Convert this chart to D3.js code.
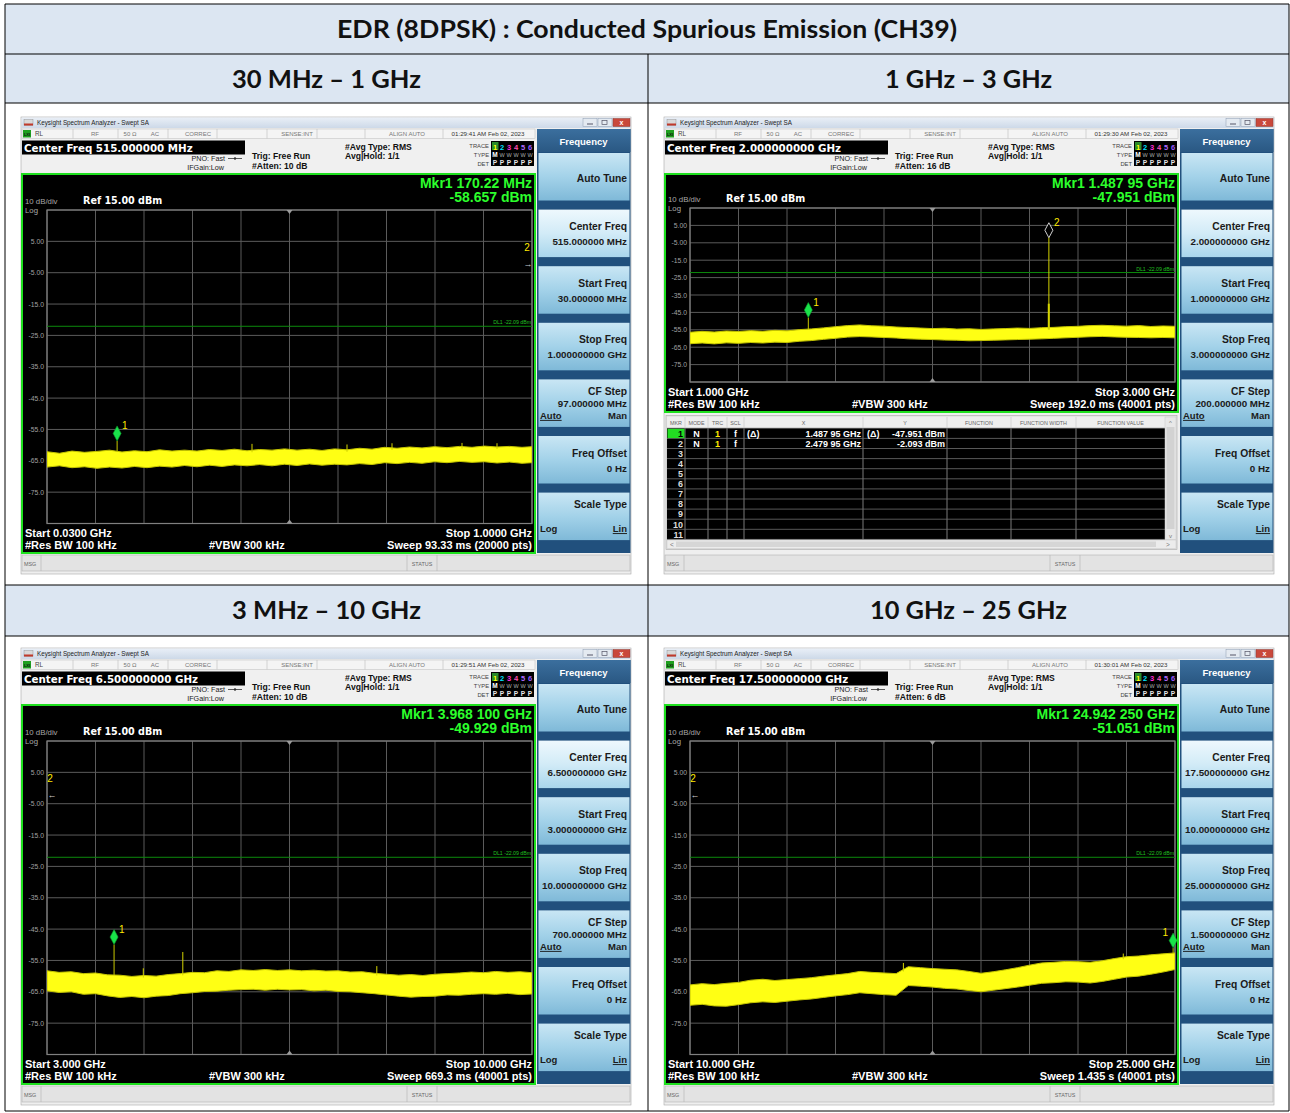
<!DOCTYPE html>
<html><head><meta charset="utf-8">
<script src="https://cdn.jsdelivr.net/npm/d3@7"></script>
<style>html,body{margin:0;padding:0;background:#fff;}svg{display:block;}</style>
</head><body><svg id="c" width="1290" height="1113"></svg>
<script>
// ---------------- DATA ----------------
const tableTitle = "EDR (8DPSK) : Conducted Spurious Emission (CH39)";
const rangeLabels = ["30 MHz – 1 GHz", "1 GHz – 3 GHz", "3 MHz – 10 GHz", "10 GHz – 25 GHz"];
const freqStartGHz = [0.03, 1, 3, 10];
const freqStopGHz = [1, 3, 10, 25];
const centerFreqLabels = ["Center Freq 515.000000 MHz", "Center Freq 2.000000000 GHz", "Center Freq 6.500000000 GHz", "Center Freq 17.500000000 GHz"];
const attenLabels = ["#Atten: 10 dB", "#Atten: 16 dB", "#Atten: 10 dB", "#Atten: 6 dB"];
const timeLabels = ["01:29:41 AM Feb 02, 2023", "01:29:30 AM Feb 02, 2023", "01:29:51 AM Feb 02, 2023", "01:30:01 AM Feb 02, 2023"];
const mkr1FreqLabels = ["Mkr1 170.22 MHz", "Mkr1 1.487 95 GHz", "Mkr1 3.968 100 GHz", "Mkr1 24.942 250 GHz"];
const mkr1LevelLabels = ["-58.657 dBm", "-47.951 dBm", "-49.929 dBm", "-51.051 dBm"];
const mkr1FreqGHz = [0.17022, 1.48795, 3.9681, 24.94225];
const mkr1LevelDbm = [-58.657, -47.951, -49.929, -51.051];
const mkr2FreqGHz = 2.47995;
const mkr2LevelDbm = -2.093;
const keyCenterFreq = ["515.000000 MHz", "2.000000000 GHz", "6.500000000 GHz", "17.500000000 GHz"];
const keyStartFreq = ["30.000000 MHz", "1.000000000 GHz", "3.000000000 GHz", "10.000000000 GHz"];
const keyStopFreq = ["1.000000000 GHz", "3.000000000 GHz", "10.000000000 GHz", "25.000000000 GHz"];
const keyCfStep = ["97.000000 MHz", "200.000000 MHz", "700.000000 MHz", "1.500000000 GHz"];
const startLabels = ["Start 0.0300 GHz", "Start 1.000 GHz", "Start 3.000 GHz", "Start 10.000 GHz"];
const stopLabels = ["Stop 1.0000 GHz", "Stop 3.000 GHz", "Stop 10.000 GHz", "Stop 25.000 GHz"];
const sweepLabels = ["Sweep  93.33 ms (20000 pts)", "Sweep  192.0 ms (40001 pts)", "Sweep  669.3 ms (40001 pts)", "Sweep  1.435 s (40001 pts)"];
const yTickValues = [5, -5, -15, -25, -35, -45, -55, -65, -75];
const yTickLabels = ["5.00", "-5.00", "-15.0", "-25.0", "-35.0", "-45.0", "-55.0", "-65.0", "-75.0"];
const refLevelDbm = 15;
const bottomLevelDbm = -85;
const displayLineDbm = -22.09;
const displayLineLabel = "DL1 -22.09 dBm";
const softkeyLabels = ["Auto Tune", "Center Freq", "Start Freq", "Stop Freq", "CF Step", "Freq Offset", "Scale Type"];
const markerTableHeaders = ["MKR", "MODE", "TRC", "SCL", "X", "Y", "FUNCTION", "FUNCTION WIDTH", "FUNCTION VALUE"];
const markerTableRows = [
  ["1", "N", "1", "f", "(Δ)", "1.487 95 GHz", "(Δ)", "-47.951 dBm"],
  ["2", "N", "1", "f", "", "2.479 95 GHz", "", "-2.093 dBm"]
];

// trace envelopes: [freq GHz, band top dBm, band bottom dBm]
const trace1 = [[0.030,-62.1,-67.0],[0.055,-62.6,-66.6],[0.080,-61.9,-67.2],[0.105,-62.3,-66.9],[0.130,-62.0,-67.4],[0.155,-61.6,-67.0],[0.180,-62.2,-67.3],[0.205,-61.8,-66.8],[0.230,-62.1,-67.2],[0.255,-61.5,-66.7],[0.280,-61.9,-67.0],[0.305,-61.6,-66.5],[0.330,-61.9,-66.9],[0.355,-61.4,-66.4],[0.380,-61.7,-66.8],[0.405,-61.3,-66.3],[0.430,-61.8,-66.6],[0.455,-61.4,-66.2],[0.480,-61.6,-66.6],[0.505,-61.2,-66.1],[0.530,-61.6,-66.5],[0.555,-61.3,-66.0],[0.580,-61.7,-66.4],[0.605,-61.2,-66.1],[0.630,-61.5,-66.3],[0.655,-61.0,-65.9],[0.680,-61.3,-66.2],[0.705,-60.7,-65.6],[0.730,-61.0,-65.9],[0.755,-60.6,-65.5],[0.780,-60.9,-65.8],[0.805,-60.5,-65.3],[0.830,-60.8,-65.6],[0.855,-60.4,-65.2],[0.880,-60.7,-65.5],[0.905,-60.3,-65.3],[0.930,-60.6,-65.7],[0.955,-60.4,-65.4],[0.980,-60.7,-65.8],[1.000,-60.5,-65.6]];
const trace2 = [[1.00,-56.4,-63.0],[1.05,-55.9,-62.6],[1.10,-56.3,-63.1],[1.15,-55.7,-62.5],[1.20,-56.0,-62.8],[1.25,-55.5,-62.3],[1.30,-55.9,-62.6],[1.35,-55.3,-62.1],[1.40,-55.6,-62.3],[1.45,-54.9,-61.6],[1.50,-54.5,-61.2],[1.55,-53.9,-60.5],[1.60,-53.2,-59.9],[1.65,-52.6,-59.2],[1.70,-52.2,-58.9],[1.75,-52.7,-59.1],[1.80,-52.9,-59.4],[1.85,-53.4,-59.7],[1.90,-53.7,-60.2],[1.95,-54.0,-60.4],[2.00,-54.3,-60.6],[2.05,-54.1,-60.9],[2.10,-54.6,-61.0],[2.15,-54.4,-61.3],[2.20,-54.8,-61.2],[2.25,-54.5,-61.0],[2.30,-54.3,-60.8],[2.35,-54.0,-60.6],[2.40,-54.2,-60.4],[2.45,-53.8,-60.2],[2.50,-53.6,-59.9],[2.55,-53.2,-59.6],[2.60,-53.0,-59.3],[2.65,-52.6,-59.0],[2.70,-52.4,-58.8],[2.75,-52.7,-59.1],[2.80,-52.9,-59.3],[2.85,-52.6,-59.4],[2.90,-53.1,-59.6],[2.95,-52.8,-59.4],[3.00,-53.0,-59.6]];
const trace3 = [[3.000,-58.3,-64.7],[3.175,-58.8,-65.2],[3.350,-58.6,-65.0],[3.525,-59.2,-65.8],[3.700,-59.0,-65.6],[3.875,-59.6,-66.3],[4.050,-59.7,-66.8],[4.225,-60.1,-66.5],[4.400,-59.8,-66.9],[4.575,-60.0,-66.4],[4.750,-59.5,-66.2],[4.925,-59.2,-65.6],[5.100,-58.8,-65.3],[5.275,-58.9,-64.9],[5.450,-58.3,-64.8],[5.625,-58.5,-64.5],[5.800,-58.0,-64.3],[5.975,-58.2,-64.2],[6.150,-57.9,-64.5],[6.325,-58.2,-64.2],[6.500,-58.0,-64.4],[6.675,-58.3,-64.3],[6.850,-58.1,-64.7],[7.025,-58.4,-64.5],[7.200,-58.3,-64.9],[7.375,-58.7,-65.0],[7.550,-58.6,-65.3],[7.725,-59.1,-65.6],[7.900,-59.4,-66.0],[8.075,-59.7,-66.4],[8.250,-59.5,-66.7],[8.425,-59.8,-66.5],[8.600,-59.4,-66.4],[8.775,-59.2,-66.0],[8.950,-59.0,-66.1],[9.125,-58.7,-65.8],[9.300,-58.9,-65.6],[9.475,-58.5,-65.8],[9.650,-58.8,-65.5],[9.825,-58.6,-65.9],[10.000,-58.9,-65.7]];
const trace4 = [[10.000,-62.8,-69.3],[10.375,-62.4,-69.0],[10.750,-62.7,-69.5],[11.125,-62.3,-69.6],[11.500,-62.0,-69.1],[11.875,-61.3,-68.5],[12.250,-61.0,-68.2],[12.625,-61.4,-68.4],[13.000,-61.1,-68.0],[13.375,-60.8,-67.6],[13.750,-60.5,-67.3],[14.125,-60.0,-66.8],[14.500,-59.6,-66.3],[14.875,-59.2,-65.9],[15.250,-58.5,-65.3],[15.625,-58.8,-65.6],[16.000,-59.0,-65.9],[16.375,-59.2,-66.1],[16.750,-57.0,-63.0],[17.125,-57.3,-63.2],[17.500,-57.6,-63.5],[17.875,-57.8,-63.9],[18.250,-58.0,-64.1],[18.625,-58.5,-64.6],[19.000,-59.1,-65.0],[19.375,-58.6,-64.5],[19.750,-58.0,-64.0],[20.125,-57.3,-63.5],[20.500,-56.5,-62.9],[20.875,-55.8,-62.3],[21.250,-55.6,-62.1],[21.625,-55.3,-61.8],[22.000,-55.4,-61.9],[22.375,-55.6,-62.2],[22.750,-55.1,-61.7],[23.125,-54.4,-61.0],[23.500,-53.8,-60.3],[23.875,-53.6,-60.0],[24.250,-53.2,-59.4],[24.625,-52.9,-58.7],[25.000,-52.6,-57.9]];
// narrow spikes rising above the noise band: [freq GHz, peak dBm, width px]
const spikes1 = [[0.44,-59.6,1],[0.63,-59.8,1],[0.72,-59.4,1],[0.86,-59.3,1],[0.93,-59.4,1]];
const spikes2 = [[2.47995,-2.093,1],[2.4795,-40.0,2]];
const spikes3 = [[4.39,-57.5,1],[4.96,-52.3,1],[7.76,-56.8,1]];
const spikes4 = [[16.6,-55.8,1],[23.4,-52.8,1]];

// ---------------- DRAW ----------------
const svg = d3.select("#c");
const FA = "'Liberation Sans', Arial, sans-serif";
const FV = "'DejaVu Sans', Verdana, sans-serif";
const FH = "Lato, 'Open Sans', sans-serif";
function T(g, x, y, s, o = {}) {
  const t = g.append("text").attr("x", x).attr("y", y).text(s)
    .attr("font-family", o.f || FA).attr("font-size", o.s || 8)
    .attr("font-weight", o.w || "normal").attr("fill", o.c || "#000");
  if (o.a) t.attr("text-anchor", o.a);
  if (o.tl) t.attr("textLength", o.tl).attr("lengthAdjust", "spacingAndGlyphs");
  if (o.u) t.attr("text-decoration", "underline");
  return t;
}
function R(g, x, y, w, h, fill, stroke, sw) {
  const r = g.append("rect").attr("x", x).attr("y", y).attr("width", w).attr("height", h).attr("fill", fill);
  if (stroke) r.attr("stroke", stroke).attr("stroke-width", sw || 1);
  return r;
}
function Ln(g, x1, y1, x2, y2, c, w) {
  return g.append("line").attr("x1", x1).attr("y1", y1).attr("x2", x2).attr("y2", y2).attr("stroke", c).attr("stroke-width", w || 1);
}
const defs = svg.append("defs");
function grad(id, stops) {
  const lg = defs.append("linearGradient").attr("id", id).attr("x1", 0).attr("y1", 0).attr("x2", 0).attr("y2", 1);
  stops.forEach(s => lg.append("stop").attr("offset", s[0]).attr("stop-color", s[1]));
}
grad("tb", [[0, "#e9eff7"], [1, "#cdd9e8"]]);
grad("key", [[0, "#c9e6f4"], [0.5, "#a3d2e9"], [1, "#7fb9d8"]]);
grad("keySel", [[0, "#eef8fd"], [0.5, "#d2ebf7"], [1, "#a9d6ec"]]);
grad("hdr", [[0, "#3b6f9e"], [1, "#2a5883"]]);

// table
const TL = 5, TR = 1289, TC = 648;
const rowY = [4, 54, 103, 585, 636, 1111];
R(svg, TL, rowY[0], TR - TL, rowY[2] - rowY[0], "#dce6f2");
R(svg, TL, rowY[3], TR - TL, rowY[4] - rowY[3], "#dce6f2");
rowY.forEach(yy => Ln(svg, TL, yy, TR, yy, "#000", 1));
Ln(svg, TL, rowY[0], TL, rowY[5], "#000", 1);
Ln(svg, TR, rowY[0], TR, rowY[5], "#000", 1);
Ln(svg, TC, rowY[1], TC, rowY[5], "#000", 1);
T(svg, 647, 38, tableTitle, { f: FH, s: 24, w: "bold", a: "middle", c: "#111", tl: 620 });
const subW = [189, 167, 189, 197];
const subPos = [[326.5, 88], [968.5, 88], [326.5, 619], [968.5, 619]];
rangeLabels.forEach((s, i) => T(svg, subPos[i][0], subPos[i][1], s, { f: FH, s: 24, w: "bold", a: "middle", c: "#111", tl: subW[i] }));

const traces = [trace1, trace2, trace3, trace4];
const spikes = [spikes1, spikes2, spikes3, spikes4];
const origins = [[21, 117], [664, 117], [21, 648], [664, 648]];

function topAt(tr, f) {
  const i = d3.bisector(d => d[0]).left(tr, f);
  if (i <= 0) return tr[0][1];
  if (i >= tr.length) return tr[tr.length - 1][1];
  const a = tr[i - 1], b = tr[i], t = (f - a[0]) / (b[0] - a[0]);
  return a[1] + t * (b[1] - a[1]);
}

function drawPanel(i) {
  const [wx, wy] = origins[i];
  const hasTable = i === 1;
  const g = svg.append("g").attr("transform", `translate(${wx},${wy})`);
  // window frame
  R(g, 0, 0, 610, 457, "#efefef", "#a8a8a8", 0.6);
  R(g, 0.5, 0.5, 609, 10.5, "url(#tb)");
  R(g, 3, 2.5, 9, 6, "#d9d9d9", "#888", 0.4);
  R(g, 3, 6.5, 9, 2, "#c0392b");
  T(g, 16, 8.3, "Keysight Spectrum Analyzer - Swept SA", { s: 6.3, c: "#222" });
  R(g, 562, 1.5, 14, 8, "#e4eaf1", "#8c9bb0", 0.5);
  Ln(g, 566, 7, 572, 7, "#556", 1);
  R(g, 577, 1.5, 14, 8, "#e4eaf1", "#8c9bb0", 0.5);
  R(g, 581, 3.5, 5, 4, "none", "#556", 0.7);
  R(g, 592, 1.5, 17, 8, "#c9483b", "#8c3a30", 0.5);
  T(g, 600.5, 8.3, "x", { s: 7, w: "bold", c: "#fff", a: "middle" });

  // status row
  R(g, 1, 12, 513, 9.5, "#f4f4f4", "#bdbdbd", 0.5);
  [52, 97, 147, 196, 246, 296, 344, 422].forEach(xx => Ln(g, xx, 12, xx, 21.5, "#bdbdbd", 0.6));
  R(g, 2, 13, 8, 7.5, "#1f9f1f");
  T(g, 6, 19, "LXI", { s: 4, w: "bold", c: "#111", a: "middle" });
  T(g, 14, 19, "RL", { s: 6.3, c: "#444" });
  const st = [["RF", 74], ["50 Ω", 109], ["AC", 134], ["CORREC", 177], ["SENSE:INT", 276], ["ALIGN AUTO", 386]];
  st.forEach(s => T(g, s[1], 19, s[0], { s: 6, c: "#777", a: "middle" }));
  T(g, 467, 19, timeLabels[i], { s: 6.2, c: "#333", a: "middle" });

  // info area
  R(g, 1, 22, 513, 34, "#f0f0f0");
  R(g, 1, 23.5, 223, 14, "#000");
  T(g, 3, 35, centerFreqLabels[i], { f: FV, s: 10.3, w: "bold", c: "#fff" });
  T(g, 204, 44, "PNO: Fast", { s: 7.2, c: "#222", a: "end" });
  T(g, 203, 53, "IFGain:Low", { s: 7.2, c: "#222", a: "end" });
  Ln(g, 207, 41.5, 221, 41.5, "#333", 0.8);
  g.append("circle").attr("cx", 214).attr("cy", 41.5).attr("r", 1.2).attr("fill", "#333");
  T(g, 231, 42, "Trig: Free Run", { s: 8.6, w: "bold", c: "#111" });
  T(g, 231, 51.5, attenLabels[i], { s: 8.6, w: "bold", c: "#111" });
  T(g, 324, 32.5, "#Avg Type: RMS", { s: 8.6, w: "bold", c: "#111" });
  T(g, 324, 41.5, "Avg|Hold: 1/1", { s: 8.6, w: "bold", c: "#111" });
  T(g, 468, 31, "TRACE", { s: 5.8, c: "#444", a: "end" });
  T(g, 468, 40, "TYPE", { s: 5.8, c: "#444", a: "end" });
  T(g, 468, 48.5, "DET", { s: 5.8, c: "#444", a: "end" });
  R(g, 470, 24, 43, 25, "#000");
  const tcol = ["#ffff00", "#00e5ff", "#ff2bd6", "#ff4fb0", "#b06bff", "#9b59ff"];
  R(g, 471, 25, 6.5, 8, "#2a8a2a");
  tcol.forEach((c, k) => {
    T(g, 474 + k * 7, 32.5, String(k + 1), { s: 7.5, w: "bold", c: c, a: "middle" });
    T(g, 474 + k * 7, 48, "P", { s: 6.5, w: "bold", c: "#e8e8e8", a: "middle" });
    T(g, 474 + k * 7, 40, k === 0 ? "M" : "W", { s: k === 0 ? 6.5 : 5.5, w: k === 0 ? "bold" : "normal", c: k === 0 ? "#fff" : "#aaa", a: "middle" });
  });

  // graticule
  const boxB = hasTable ? 295 : 436;
  const pT = hasTable ? 91 : 93, pB = hasTable ? 265 : 406.5, pL = 26, pR = 511;
  R(g, 1, 57, 513, boxB - 57, "#000", "#1ee01e", 2);
  const x = d3.scaleLinear().domain([freqStartGHz[i], freqStopGHz[i]]).range([pL, pR]);
  const y = d3.scaleLinear().domain([bottomLevelDbm, refLevelDbm]).range([pB, pT]);
  const xs = d3.range(11).map(k => freqStartGHz[i] + k * (freqStopGHz[i] - freqStartGHz[i]) / 10);
  const ys = d3.range(bottomLevelDbm, refLevelDbm + 1, 10);
  xs.forEach(v => Ln(g, x(v), pT, x(v), pB, "#5b5b5b", 1));
  ys.forEach(v => Ln(g, pL, y(v), pR, y(v), "#5b5b5b", 1));
  R(g, pL, pT, pR - pL, pB - pT, "none", "#808080", 1.2);
  const xm = x((freqStartGHz[i] + freqStopGHz[i]) / 2);
  g.append("path").attr("d", `M${xm - 3},${pT} L${xm + 3},${pT} L${xm},${pT + 4} Z`).attr("fill", "#9a9a9a");
  g.append("path").attr("d", `M${xm - 3},${pB} L${xm + 3},${pB} L${xm},${pB - 4} Z`).attr("fill", "#9a9a9a");
  yTickValues.forEach((v, k) => T(g, pL - 3, y(v) + 2.5, yTickLabels[k], { s: 6.8, c: "#a0a0a0", a: "end" }));

  // display line
  Ln(g, pL, y(displayLineDbm), pR, y(displayLineDbm), "#0c8a0c", 1);
  T(g, pR - 1, y(displayLineDbm) - 2, displayLineLabel, { s: 5.2, c: "#20c020", a: "end" });

  // trace
  const cid = "clip" + i;
  defs.append("clipPath").attr("id", cid).append("rect").attr("x", wx + pL).attr("y", wy + pT).attr("width", pR - pL).attr("height", pB - pT);
  const pg = svg.append("g").attr("clip-path", `url(#${cid})`).append("g").attr("transform", `translate(${wx},${wy})`);
  const tr = traces[i];
  pg.append("path").datum(tr)
    .attr("d", d3.area().x(d => x(d[0])).y0(d => y(d[2])).y1(d => y(d[1])))
    .attr("fill", "#ffff14").attr("stroke", "#c4c400").attr("stroke-width", 1);
  spikes[i].forEach(s => Ln(pg, x(s[0]), y(topAt(tr, s[0])) + 2, x(s[0]), y(s[1]), "#d4d400", s[2]));

  // marker 1
  const m1x = x(mkr1FreqGHz[i]), m1y = y(mkr1LevelDbm[i]);
  Ln(g, m1x, m1y, m1x, y(topAt(tr, mkr1FreqGHz[i])) + 1, "#c8c800", 1);
  const bcid = "bclip" + i;
  defs.append("clipPath").attr("id", bcid).append("rect").attr("x", wx + 1).attr("y", wy + 57).attr("width", 512).attr("height", boxB - 57);
  const mg = svg.append("g").attr("clip-path", `url(#${bcid})`).append("g").attr("transform", `translate(${wx},${wy})`);
  mg.append("path").attr("d", `M${m1x},${m1y} L${m1x + 4},${m1y - 7.5} L${m1x},${m1y - 15} L${m1x - 4},${m1y - 7.5} Z`)
    .attr("fill", "#19e34a").attr("stroke", "#0c9c2c").attr("stroke-width", 0.6);
  if (m1x > pR - 15) T(g, m1x - 5, m1y - 12, "1", { s: 10, c: "#ffea00", a: "end" });
  else T(g, m1x + 5, m1y - 12, "1", { s: 10, c: "#ffea00" });

  // marker 2
  if (mkr2FreqGHz >= freqStartGHz[i] && mkr2FreqGHz <= freqStopGHz[i]) {
    const m2x = x(mkr2FreqGHz), m2y = y(mkr2LevelDbm);
    g.append("path").attr("d", `M${m2x},${m2y} L${m2x + 4},${m2y - 7.5} L${m2x},${m2y - 15} L${m2x - 4},${m2y - 7.5} Z`)
      .attr("fill", "#000").attr("stroke", "#e6e6e6").attr("stroke-width", 0.9);
    T(g, m2x + 5, m2y - 12, "2", { s: 10, c: "#ffea00" });
  } else if (mkr2FreqGHz > freqStopGHz[i]) {
    T(g, pR - 5, y(mkr2LevelDbm) - 13, "2", { s: 10, c: "#ffea00", a: "middle" });
    T(g, pR - 4, y(mkr2LevelDbm) + 3, "→", { s: 9, c: "#cfcfcf", a: "middle" });
  } else {
    T(g, pL + 3, y(mkr2LevelDbm) - 13, "2", { s: 10, c: "#ffea00", a: "middle" });
    T(g, pL + 5, y(mkr2LevelDbm) + 3, "←", { s: 9, c: "#cfcfcf", a: "middle" });
  }

  // graticule texts
  T(g, pR, 71, mkr1FreqLabels[i], { s: 14, w: "bold", c: "#2cff2c", a: "end" });
  T(g, pR, 85, mkr1LevelLabels[i], { s: 14, w: "bold", c: "#2cff2c", a: "end" });
  T(g, 4, pT - 6, "10 dB/div", { s: 7.8, c: "#a8a8a8" });
  T(g, 62, pT - 6, "Ref 15.00 dBm", { f: FV, s: 9.6, w: "bold", c: "#fff" });
  T(g, 4, pT + 3, "Log", { s: 7.8, c: "#a8a8a8" });
  T(g, 4, pB + 13.5, startLabels[i], { s: 11, w: "bold", c: "#fff" });
  T(g, pR, pB + 13.5, stopLabels[i], { s: 11, w: "bold", c: "#fff", a: "end" });
  T(g, 4, boxB - 4, "#Res BW 100 kHz", { s: 11, w: "bold", c: "#fff" });
  T(g, 188, boxB - 4, "#VBW 300 kHz", { s: 11, w: "bold", c: "#fff" });
  T(g, pR, boxB - 4, sweepLabels[i], { s: 11, w: "bold", c: "#fff", a: "end" });

  // marker table (panel 2)
  if (hasTable) {
    R(g, 2, 298.5, 511, 134, "#e4e4e4", "#a9a9a9", 0.6);
    R(g, 3, 300, 498, 10.5, "#eeeeee");
    R(g, 3, 311, 498, 111.5, "#000");
    const sep = [3, 21, 44, 63, 80, 199, 283, 347, 412, 501];
    for (let k = 0; k < 9; k++) T(g, (sep[k] + sep[k + 1]) / 2, 307.8, markerTableHeaders[k], { s: 5.4, c: "#666", a: "middle" });
    sep.slice(1, -1).forEach(sx => { Ln(g, sx, 300, sx, 310.5, "#c4c4c4", 0.6); Ln(g, sx, 311, sx, 422.5, "#b0b0b0", 0.7); });
    d3.range(12).forEach(k => Ln(g, 3, 311.3 + k * 10.1, 501, 311.3 + k * 10.1, "#6f6f6f", 0.8));
    R(g, 3.5, 311.8, 17, 9.3, "#22dd22");
    d3.range(1, 12).forEach(n => T(g, 19, 311.3 + (n - 1) * 10.1 + 8.3, String(n), { s: 9, w: "bold", c: n === 1 ? "#000" : "#dcdcdc", a: "end" }));
    markerTableRows.forEach((row, r) => {
      const by = 311.3 + r * 10.1 + 8.2;
      T(g, 32.5, by, row[1], { s: 9, w: "bold", c: "#fff", a: "middle" });
      T(g, 53.5, by, row[2], { s: 9, w: "bold", c: "#ffee00", a: "middle" });
      T(g, 71.5, by, row[3], { s: 9, w: "bold", c: "#fff", a: "middle" });
      if (row[4]) T(g, 83, by, row[4], { s: 9, w: "bold", c: "#fff" });
      T(g, 197, by, row[5], { s: 9, w: "bold", c: "#fff", a: "end" });
      if (row[6]) T(g, 203, by, row[6], { s: 9, w: "bold", c: "#fff" });
      T(g, 281, by, row[7], { s: 9, w: "bold", c: "#fff", a: "end" });
    });
    R(g, 501, 300, 11, 122.5, "#e8e8e8", "#c8c8c8", 0.5);
    R(g, 502.5, 310, 8, 102, "#d2d2d2");
    T(g, 506.5, 307.5, "^", { s: 6, c: "#777", a: "middle" });
    T(g, 506.5, 420.5, "v", { s: 6, c: "#777", a: "middle" });
    R(g, 3, 423, 509, 8.5, "#ececec", "#c8c8c8", 0.5);
    R(g, 12, 424.5, 480, 5.5, "#d6d6d6");
    T(g, 6, 430, "<", { s: 6.5, c: "#777" });
    T(g, 502, 430, ">", { s: 6.5, c: "#777" });
  }

  // softkeys
  R(g, 516, 12, 93.5, 424, "#21507d");
  R(g, 516, 12, 93.5, 23, "url(#hdr)");
  T(g, 562.5, 27.5, "Frequency", { s: 9.5, w: "bold", c: "#fff", a: "middle" });
  const keyVals = [null, keyCenterFreq[i], keyStartFreq[i], keyStopFreq[i], keyCfStep[i], "0 Hz", null];
  const vo = { s: 9.8, w: "bold", c: "#1b1b1b", a: "end" };
  softkeyLabels.forEach((lab, k) => {
    const ty = 36 + k * 56.6;
    R(g, 517.5, ty, 91, 47.5, k === 1 ? "url(#keySel)" : "url(#key)");
    const ko = { s: 10.3, w: "bold", c: "#1b1b1b", a: "end" };
    if (k === 0) T(g, 606, ty + 28.5, lab, ko);
    else if (k === 4) {
      T(g, 606, ty + 15.5, lab, ko);
      T(g, 606, ty + 27.5, keyVals[k], vo);
      T(g, 519, ty + 39.5, "Auto", { s: 9.5, w: "bold", c: "#1b1b1b", u: true });
      T(g, 606, ty + 39.5, "Man", { s: 9.5, w: "bold", c: "#1b1b1b", a: "end" });
    } else if (k === 6) {
      T(g, 606, ty + 15.5, lab, ko);
      T(g, 519, ty + 39.5, "Log", { s: 9.5, w: "bold", c: "#1b1b1b" });
      T(g, 606, ty + 39.5, "Lin", { s: 9.5, w: "bold", c: "#1b1b1b", a: "end", u: true });
    } else {
      T(g, 606, ty + 20.5, lab, ko);
      T(g, 606, ty + 35.5, keyVals[k], vo);
    }
  });

  // message bar
  R(g, 1, 438, 608, 16, "#e3e3e3", "#b3b3b3", 0.6);
  Ln(g, 20, 438, 20, 454, "#b3b3b3", 0.6);
  Ln(g, 386, 438, 386, 454, "#b3b3b3", 0.6);
  Ln(g, 416, 438, 416, 454, "#b3b3b3", 0.6);
  T(g, 3, 448.5, "MSG", { s: 5.4, c: "#666" });
  T(g, 401, 448.5, "STATUS", { s: 5.4, c: "#666", a: "middle" });
}
[0, 1, 2, 3].forEach(drawPanel);
</script></body></html>
